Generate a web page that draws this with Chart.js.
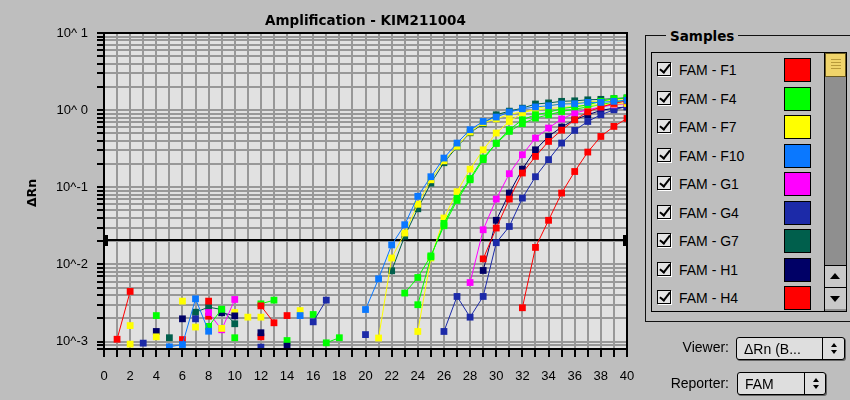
<!DOCTYPE html>
<html>
<head>
<meta charset="utf-8">
<script src="https://cdn.jsdelivr.net/npm/chart.js@4/dist/chart.umd.min.js"></script>
<style>
html,body{margin:0;padding:0;background:#bebebe;width:850px;height:400px;overflow:hidden;}
body{font-family:"Liberation Sans","DejaVu Sans",sans-serif;color:#000;position:relative;}
#wrap{position:absolute;left:0;top:0;width:640px;height:400px;}
#group{position:absolute;left:645px;top:35px;width:220px;height:287px;border:1px solid #111;box-sizing:border-box;}
#gtitle{position:absolute;left:666px;top:27px;padding:0 4px;background:#bebebe;font:bold 13.5px "DejaVu Sans",sans-serif;line-height:18px;}
#list{position:absolute;left:651px;top:52px;width:196px;height:260px;border:1px solid #000;box-sizing:border-box;}
.row{position:absolute;left:0;height:24px;width:172px;}
.cb{position:absolute;left:5px;top:4px;width:14px;height:14px;border:1px solid #000;background:#e4e4e4;box-sizing:border-box;box-shadow:1px 1px 0 #fff;}
.cb::after{content:'';position:absolute;left:4px;top:-1px;width:4px;height:9px;border:solid #000;border-width:0 2px 2px 0;transform:rotate(38deg);}
.lbl{position:absolute;left:27px;top:3px;font-size:14px;line-height:18px;white-space:nowrap;}
.sw{position:absolute;left:132px;top:0;width:27px;height:24px;border:1px solid #000;box-sizing:border-box;}
#sbar{position:absolute;left:172px;top:0;width:22px;height:258px;border-left:1px solid #000;box-sizing:border-box;background:#8f8f8f;}
#thumb{position:absolute;left:0;top:0;width:21px;height:24px;box-sizing:border-box;border:1px solid #6a5a20;background:#f0d46a;}
#thumb::after{content:'';position:absolute;left:5px;top:5px;width:10px;height:12px;background:repeating-linear-gradient(#b89a3a 0 1px,transparent 1px 3px);}
.abtn{position:absolute;left:0;width:21px;height:22px;background:#c9c9c9;border-top:1px solid #000;box-sizing:border-box;}
.up::after{content:'';position:absolute;left:5px;top:7px;border-left:5px solid transparent;border-right:5px solid transparent;border-bottom:6px solid #000;}
.dn::after{content:'';position:absolute;left:5px;top:8px;border-left:5px solid transparent;border-right:5px solid transparent;border-top:6px solid #000;}
.plab{position:absolute;font-size:14px;line-height:18px;text-align:right;width:100px;}
.pop{position:absolute;height:23px;border:1px solid #000;border-radius:3px;background:#dedede;box-sizing:border-box;box-shadow:1px 1px 0 #666;}
.pop .t{position:absolute;left:7px;top:2px;font-size:14px;line-height:18px;white-space:nowrap;}
.pop .d{position:absolute;top:0;bottom:0;width:1px;background:#000;}
.pop .a1,.pop .a2{position:absolute;width:0;height:0;border-left:3px solid transparent;border-right:3px solid transparent;}
.pop .a1{top:5px;border-bottom:4px solid #000;}
.pop .a2{top:12px;border-top:4px solid #000;}
</style>
</head>
<body>
<div id="wrap"><canvas id="chart" width="640" height="400"></canvas></div>
<div id="group"></div>
<div id="gtitle">Samples</div>
<div id="list"></div>
<div class="plab" style="left:629px;top:338px;">Viewer:</div>
<div class="pop" style="left:736px;top:337px;width:109px;"><span class="t">ΔRn (B...</span><span class="d" style="left:85px"></span><span class="a1" style="left:94px"></span><span class="a2" style="left:94px"></span></div>
<div class="plab" style="left:629px;top:374px;">Reporter:</div>
<div class="pop" style="left:737px;top:372px;width:89px;"><span class="t">FAM</span><span class="d" style="left:66px"></span><span class="a1" style="left:75px"></span><span class="a2" style="left:75px"></span></div>
<script>
const _ = null;
const cycles = [1,2,3,4,5,6,7,8,9,10,11,12,13,14,15,16,17,18,19,20,21,22,23,24,25,26,27,28,29,30,31,32,33,34,35,36,37,38,39,40];

const famF1  = [0.00107,0.00446,_,_,_,_,_,0.00334,_,_,_,0.0029,0.00175,_,_,_,_,_,_,_,_,_,_,_,_,_,_,_,0.0118,0.0296,0.0703,0.153,0.251,0.393,0.55,0.75,0.95,1.1,1.22,1.32];
const famF4  = [_,_,_,0.00217,_,_,_,0.00157,0.00263,_,_,0.00308,0.00344,_,_,_,0.000962,0.00112,_,_,_,_,0.00425,0.00676,0.0129,0.0317,0.0675,0.125,0.228,0.374,0.557,0.75,0.871,0.934,1.05,1.10,1.17,1.30,1.41,1.44];
const famF7  = [_,0.00161,_,0.00115,_,0.00334,_,_,0.00148,_,0.00207,_,_,_,_,_,_,_,_,_,0.00111,0.0121,0.0255,0.0602,0.125,0.22,0.34,0.52,0.687,0.77,0.88,0.95,1.0,1.05,1.08,1.12,1.15,1.18,1.2,1.22];
const famF10 = [_,_,_,_,0.000854,0.000914,0.00358,0.00136,_,_,_,_,_,_,0.00217,_,_,_,_,0.0026,0.0065,0.0179,0.0327,0.0764,0.137,0.239,0.374,0.557,0.713,0.814,0.945,1.04,1.10,1.14,1.20,1.21,1.26,1.26,1.30,1.34];
const famG1  = [_,_,_,_,_,_,_,0.00238,0.00142,0.00351,_,_,_,_,_,_,_,_,_,_,_,_,_,_,_,_,_,0.00582,0.0281,0.0703,0.150,0.264,0.435,0.586,0.767,0.917,1.01,1.10,1.17,1.21];
const famG4  = [_,_,0.000953,_,_,_,0.00197,_,_,_,_,0.000846,_,_,_,0.0018,0.00344,_,_,0.00123,_,_,_,_,_,0.00135,0.00384,0.00207,0.00384,0.0191,0.031,0.0724,0.137,0.228,0.374,0.546,0.713,0.871,1.01,1.12];
const famG7  = [_,_,_,_,0.00112,_,0.0024,0.00279,0.0026,0.0017,_,_,_,_,_,_,_,_,_,_,_,0.00826,0.0233,0.0526,0.113,0.208,0.335,0.509,0.667,0.871,0.97,1.06,1.20,1.24,1.30,1.32,1.36,1.38,1.41,1.44];
const famH1  = [_,_,_,0.00135,_,0.00197,_,_,0.00236,0.00215,_,0.0013,_,0.00087,_,_,_,_,_,_,_,_,_,_,_,_,_,_,0.00834,0.0373,0.0841,0.172,0.306,0.456,0.604,0.75,0.871,0.991,1.06,1.10];
const famH4  = [_,_,_,_,_,0.00106,_,0.00213,_,_,_,0.00115,_,0.00217,_,_,_,_,_,_,_,_,_,_,_,_,_,_,_,_,_,0.00274,0.0166,0.0373,0.0841,0.160,0.286,0.456,0.615,0.78];
const famH7  = [_,_,_,_,_,_,_,_,_,0.00112,_,_,_,0.00103,_,0.00224,_,_,_,_,_,_,_,0.003,0.0125,0.034,0.072,0.13,0.24,0.37,0.53,0.667,0.79,0.87,0.96,1.03,1.1,1.18,1.27,1.35];
const famH10 = [_,0.000925,_,_,_,_,0.00154,_,_,0.00238,_,0.00207,_,_,0.00252,_,_,_,_,_,_,_,_,0.00135,0.0121,0.0399,0.0875,0.172,0.306,0.505,0.713,0.92,1.04,1.14,1.21,1.24,1.28,1.32,1.36,1.41];

const sampleNames  = ['FAM - F1','FAM - F4','FAM - F7','FAM - F10','FAM - G1','FAM - G4','FAM - G7','FAM - H1','FAM - H4','FAM - H7','FAM - H10'];
const sampleValues = [famF1,famF4,famF7,famF10,famG1,famG4,famG7,famH1,famH4,famH7,famH10];
const sampleColors = ['#ff0000','#00ff00','#ffff00','#0a78ff','#ff00ff','#1c2aa8','#005f4c','#000066','#ff0000','#00ff00','#ffff00'];
const visibleLegendRows = 9;

const xTickLabels = ['0','2','4','6','8','10','12','14','16','18','20','22','24','26','28','30','32','34','36','38','40'];
const yDecades = [0.001,0.01,0.1,1,10];
const yTickLabels = ['10^-3','10^-2','10^-1','10^ 0','10^ 1'];
const thresholdValue = 0.021;
const chartTitle = 'Amplification - KIM211004';
const yTitle = 'ΔRn';

// legend panel
const list = document.getElementById('list');
for (let i = 0; i < visibleLegendRows; i++) {
  const r = document.createElement('div');
  r.className = 'row';
  r.style.top = (5 + i * 28.5) + 'px';
  r.innerHTML = '<span class="cb"></span><span class="lbl"></span><span class="sw"></span>';
  r.querySelector('.lbl').textContent = sampleNames[i];
  r.querySelector('.sw').style.background = sampleColors[i];
  list.appendChild(r);
}
const sb = document.createElement('div');
sb.id = 'sbar';
sb.innerHTML = '<div id="thumb"></div><div class="abtn up" style="top:212px"></div><div class="abtn dn" style="top:234px"></div>';
list.appendChild(sb);

const FONT = '"Liberation Sans", "DejaVu Sans", sans-serif';

const framePlugin = {
  id: 'frame',
  beforeDraw(chart) {
    const {ctx, chartArea: a} = chart;
    ctx.save();
    ctx.fillStyle = '#e1e1e1';
    ctx.fillRect(a.left, a.top, a.right - a.left, a.bottom - a.top);
    ctx.restore();
  },
  beforeDatasetsDraw(chart) {
    const {ctx, chartArea: a} = chart;
    const y = Math.round(chart.scales.y.getPixelForValue(thresholdValue));
    ctx.save();
    ctx.fillStyle = '#000';
    ctx.fillRect(a.left, y - 1, a.right - a.left, 2);
    ctx.fillRect(a.left, y - 5, 4, 11);
    ctx.fillRect(a.right - 4, y - 5, 4, 11);
    ctx.restore();
  },
  afterDraw(chart) {
    const {ctx, chartArea: a} = chart;
    ctx.save();
    ctx.strokeStyle = '#000';
    ctx.lineWidth = 2;
    ctx.strokeRect(a.left, a.top, a.right - a.left, a.bottom - a.top);
    ctx.fillStyle = '#000';
    ctx.font = 'bold 13.5px "DejaVu Sans", sans-serif';
    ctx.textAlign = 'center';
    ctx.textBaseline = 'alphabetic';
    ctx.fillText(chartTitle, (a.left + a.right) / 2, 25);
    ctx.translate(33, 193);
    ctx.rotate(-Math.PI / 2);
    ctx.font = 'bold 12.5px "DejaVu Sans", sans-serif';
    ctx.textBaseline = 'middle';
    ctx.fillText(yTitle, 0, 0);
    ctx.restore();
  }
};

const datasets = sampleValues.map((vals, i) => ({
  label: sampleNames[i],
  data: cycles.map((c, k) => ({x: c, y: vals[k]})),
  borderColor: sampleColors[i],
  backgroundColor: sampleColors[i],
  pointBackgroundColor: sampleColors[i],
  pointBorderWidth: 0,
  borderWidth: 1,
  pointStyle: 'rect',
  pointRadius: 4.8,
  tension: 0,
  spanGaps: false,
  order: sampleNames[i] === 'FAM - F10' ? -1 : 0
}));

new Chart(document.getElementById('chart'), {
  type: 'line',
  data: {datasets},
  plugins: [framePlugin],
  options: {
    responsive: false,
    animation: false,
    devicePixelRatio: 1,
    layout: {padding: {left: 0, right: 13, top: 33, bottom: 0}},
    plugins: {legend: {display: false}, tooltip: {enabled: false}, title: {display: false}},
    scales: {
      x: {
        type: 'linear', min: 0, max: 40,
        afterBuildTicks(s) { s.ticks = [0].concat(cycles).map(v => ({value: v})); },
        afterFit(s) { s.height = 51; s.paddingLeft = 0; s.paddingRight = 0; },
        ticks: {
          autoSkip: false, maxRotation: 0, minRotation: 0, padding: 12, color: '#000',
          font: {family: FONT, size: 13},
          callback(v) { return v % 2 === 0 ? xTickLabels[v / 2] : ''; }
        },
        grid: {color: '#989898', lineWidth: 2, tickColor: '#000', tickLength: 8, tickWidth: 2, drawTicks: true},
        border: {display: true, color: '#000', width: 2}
      },
      y: {
        type: 'logarithmic', min: 0.0008, max: 10,
        afterBuildTicks(s) {
          const t = [];
          for (let e = -4; e <= 1; e++) {
            for (let m = 1; m <= 9; m++) {
              const v = parseFloat((m * Math.pow(10, e)).toPrecision(6));
              if (v >= 0.0008 - 1e-12 && v <= 10 + 1e-9) t.push({value: v});
            }
          }
          s.ticks = t;
        },
        afterFit(s) { s.width = 104; s.paddingTop = 0; s.paddingBottom = 0; },
        ticks: {
          autoSkip: false, padding: 9, color: '#000',
          font: {family: FONT, size: 13},
          callback(v) {
            for (let k = 0; k < yDecades.length; k++) {
              if (Math.abs(v / yDecades[k] - 1) < 1e-6) return yTickLabels[k];
            }
            return '';
          }
        },
        grid: {color: '#989898', lineWidth: 2, tickColor: '#000', tickLength: 7, tickWidth: 2, drawTicks: true},
        border: {display: true, color: '#000', width: 2}
      }
    }
  }
});
</script>
</body>
</html>
